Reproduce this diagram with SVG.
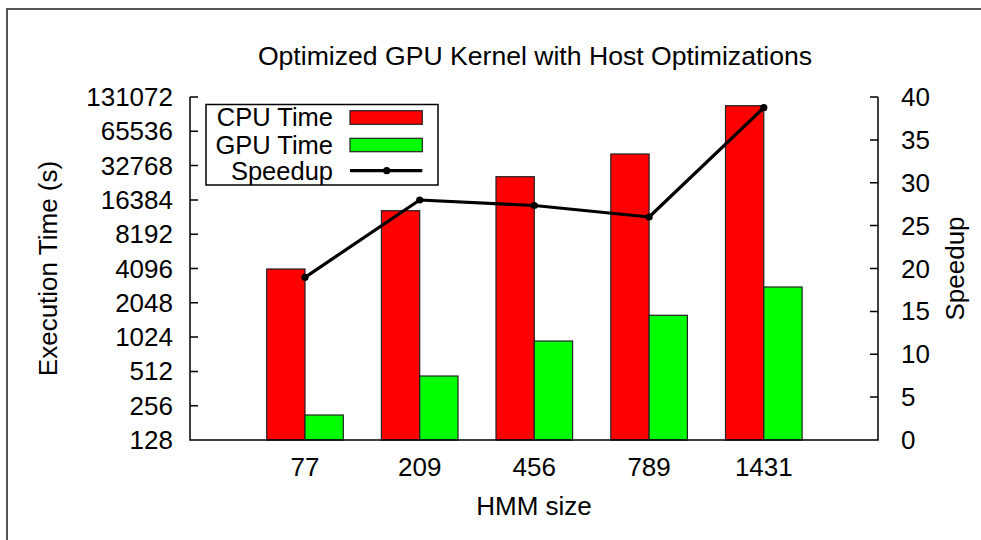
<svg xmlns="http://www.w3.org/2000/svg" width="981" height="540" viewBox="0 0 981 540">
<defs>
<style>
text{font-family:"Liberation Sans",Arial,sans-serif;font-size:26px;fill:#000}
.l{text-anchor:end}
.r{text-anchor:start}
.m{text-anchor:middle}
.lg{font-size:25.5px}
.ax{stroke:#000;stroke-width:1.5;fill:none}
.cpu{fill:#ff0000;stroke:#222;stroke-width:1.2}
.gpu{fill:#00ff00;stroke:#222;stroke-width:1.2}
.sp{stroke:#000;stroke-width:3.2;fill:none;stroke-linejoin:round}
.pt{fill:#000}
</style>
</defs>
<rect x="0" y="0" width="981" height="540" fill="#fff"/>
<path d="M7,541 V9 H982" fill="none" stroke="#555" stroke-width="2"/>
<text id="title" class="m" x="535" y="65" style="font-size:26.6px">Optimized GPU Kernel with Host Optimizations</text>
<g id="bars">
<rect class="cpu" x="266.7" y="269" width="38.3" height="171"/>
<rect class="gpu" x="305" y="415" width="38.3" height="25"/>
<rect class="cpu" x="381.4" y="210.7" width="38.3" height="229.3"/>
<rect class="gpu" x="419.7" y="376" width="38.3" height="64"/>
<rect class="cpu" x="496" y="176.7" width="38.3" height="263.3"/>
<rect class="gpu" x="534.3" y="341" width="38.3" height="99"/>
<rect class="cpu" x="610.8" y="154" width="38.3" height="286"/>
<rect class="gpu" x="649.1" y="315.3" width="38.3" height="124.7"/>
<rect class="cpu" x="725.5" y="105.7" width="38.3" height="334.3"/>
<rect class="gpu" x="763.8" y="287" width="38.3" height="153"/>
</g>
<g id="axes">
<path class="ax" d="M190,97 V440 H878 V97"/>
<path class="ax" d="M190,97h8M190,131.3h8M190,165.6h8M190,199.9h8M190,234.2h8M190,268.5h8M190,302.8h8M190,337.1h8M190,371.4h8M190,405.7h8"/>
<path class="ax" d="M878,97h-8M878,139.9h-8M878,182.8h-8M878,225.6h-8M878,268.5h-8M878,311.4h-8M878,354.3h-8M878,397.1h-8"/>
</g>
<g id="ylabels-left">
<text class="l" x="173" y="106">131072</text>
<text class="l" x="173" y="140.3">65536</text>
<text class="l" x="173" y="174.6">32768</text>
<text class="l" x="173" y="208.9">16384</text>
<text class="l" x="173" y="243.2">8192</text>
<text class="l" x="173" y="277.5">4096</text>
<text class="l" x="173" y="311.8">2048</text>
<text class="l" x="173" y="346.1">1024</text>
<text class="l" x="173" y="380.4">512</text>
<text class="l" x="173" y="414.7">256</text>
<text class="l" x="173" y="449">128</text>
</g>
<g id="ylabels-right">
<text class="r" x="901" y="106">40</text>
<text class="r" x="901" y="148.9">35</text>
<text class="r" x="901" y="191.8">30</text>
<text class="r" x="901" y="234.6">25</text>
<text class="r" x="901" y="277.5">20</text>
<text class="r" x="901" y="320.4">15</text>
<text class="r" x="901" y="363.3">10</text>
<text class="r" x="901" y="406.1">5</text>
<text class="r" x="901" y="449">0</text>
</g>
<g id="xlabels">
<text class="m" x="305" y="476">77</text>
<text class="m" x="419.7" y="476">209</text>
<text class="m" x="534.3" y="476">456</text>
<text class="m" x="649.1" y="476">789</text>
<text class="m" x="763.8" y="476">1431</text>
</g>
<text id="xtitle" class="m" x="534" y="515">HMM size</text>
<text id="ytitle-left" class="m" transform="translate(57,268.5) rotate(-90)">Execution Time (s)</text>
<text id="ytitle-right" class="m" transform="translate(964,268.5) rotate(-90)">Speedup</text>
<g id="connectors">
<polyline class="sp" points="305,277.3 419.7,200 534.3,205.5 649.1,217 763.8,107.7"/>
<g class="pt">
<circle cx="305" cy="277.3" r="3.6"/>
<circle cx="419.7" cy="200" r="3.6"/>
<circle cx="534.3" cy="205.5" r="3.6"/>
<circle cx="649.1" cy="217" r="3.6"/>
<circle cx="763.8" cy="107.7" r="3.6"/>
</g>
</g>
<g id="legend">
<rect x="206" y="104.5" width="232" height="80.5" fill="#fff" stroke="#000" stroke-width="1.5"/>
<text class="l lg" x="333" y="126">CPU Time</text>
<text class="l lg" x="333" y="153.5">GPU Time</text>
<text class="l lg" x="333" y="180">Speedup</text>
<rect class="cpu" x="350" y="110.7" width="72.3" height="13.6"/>
<rect class="gpu" x="350" y="138.3" width="72.3" height="13.4"/>
<line class="sp" x1="350" y1="170.7" x2="422.3" y2="170.7"/>
<circle class="pt" cx="386.7" cy="170.7" r="3.6"/>
</g>
</svg>
